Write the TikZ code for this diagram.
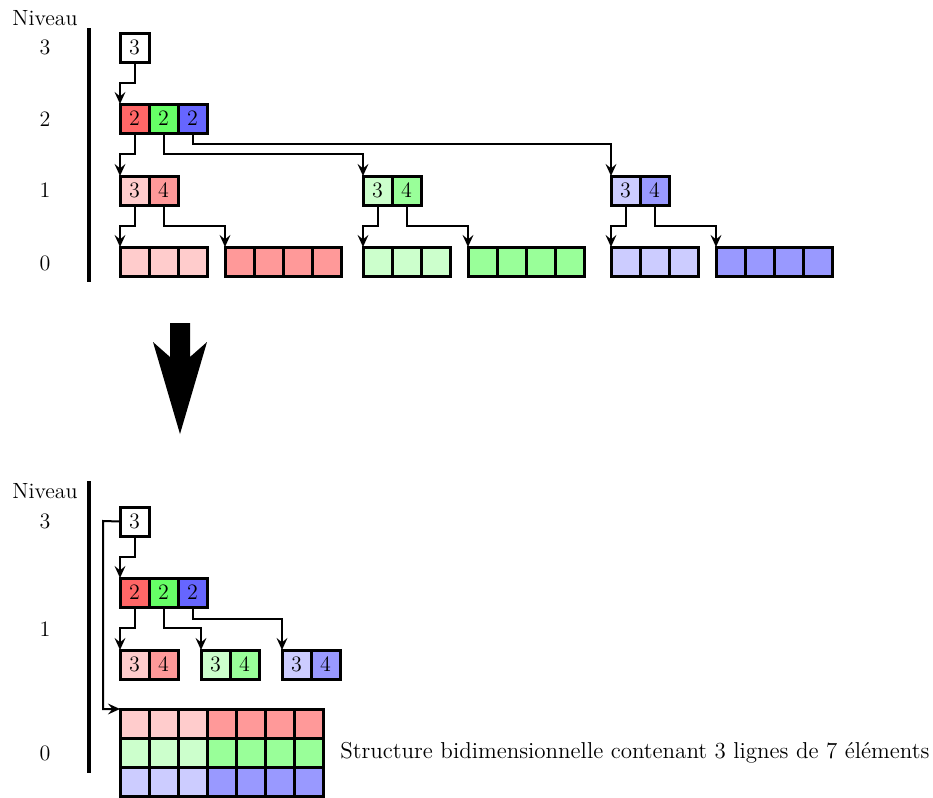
\documentclass[tikz,border=0pt]{standalone}
\usetikzlibrary{arrows.meta}
\newcommand\cellrow[5]{%
  \foreach \i in {1,...,#4} {\node[cellbox,fill=#5] (#1-\i) at ({#2+29*(\i-1)},#3) {};}}
\begin{document}
\begin{tikzpicture}[x=0.5pt,y=-0.5pt,
  cellbox/.style={draw, line width=1.5pt, minimum size=14.5pt, inner sep=0pt, outer sep=0pt, anchor=north west, font=\fontsize{11}{13}\selectfont},
  conn/.style={line width=1pt, -{Stealth[length=6pt,width=5.4pt,inset=2.2pt]}},
  lvl/.style={font=\fontsize{11}{13}\selectfont},
  bar/.style={line width=2pt}]
\useasboundingbox (0,0) rectangle (933,798);
% ---------- top part ----------
\node[lvl] (niv1) at (45,18) {Niveau};
\node[lvl] (l3a) at (45,47) {3};
\node[lvl] (l2a) at (45,119) {2};
\node[lvl] (l1a) at (45,190) {1};
\node[lvl] (l0a) at (45,263) {0};
\draw[bar] (89,28) -- (89,282);
% level 3
\node[cellbox] (t3) at (120,33) {3};
% level 2
\node[cellbox,fill=red!60] (t2r) at (120,104) {2};
\node[cellbox,fill=green!60] (t2g) at (149,104) {2};
\node[cellbox,fill=blue!60] (t2b) at (178,104) {2};
% level 1
\node[cellbox,fill=red!20] (t1r3) at (120,176) {3};
\node[cellbox,fill=red!40] (t1r4) at (149,176) {4};
\node[cellbox,fill=green!20] (t1g3) at (363,176) {3};
\node[cellbox,fill=green!40] (t1g4) at (392,176) {4};
\node[cellbox,fill=blue!20] (t1b3) at (611,176) {3};
\node[cellbox,fill=blue!40] (t1b4) at (640,176) {4};
% level 0
\cellrow{r0a}{120}{247}{3}{red!20}
\cellrow{r0b}{225}{247}{4}{red!40}
\cellrow{g0a}{363}{247}{3}{green!20}
\cellrow{g0b}{468}{247}{4}{green!40}
\cellrow{b0a}{611}{247}{3}{blue!20}
\cellrow{b0b}{716}{247}{4}{blue!40}
% connectors
\draw[conn] (t3.south) -- ++(0,21) -| (t2r.north west);
\draw[conn] (t2r.south) -- ++(0,21) -| (t1r3.north west);
\draw[conn] (t2g.south) -- ++(0,21) -| (t1g3.north west);
\draw[conn] (t2b.south) -- ++(0,11) -| (t1b3.north west);
\draw[conn] (t1r3.south) -- ++(0,21) -| (r0a-1.north west);
\draw[conn] (t1r4.south) -- ++(0,21) -| (r0b-1.north west);
\draw[conn] (t1g3.south) -- ++(0,21) -| (g0a-1.north west);
\draw[conn] (t1g4.south) -- ++(0,21) -| (g0b-1.north west);
\draw[conn] (t1b3.south) -- ++(0,21) -| (b0a-1.north west);
\draw[conn] (t1b4.south) -- ++(0,21) -| (b0b-1.north west);
% ---------- big arrow ----------
\fill (170,323) -- (190,323) -- (190,357) -- (207,342) -- (180,434) -- (153,342) -- (170,357) -- cycle;
% ---------- bottom part ----------
\node[lvl] (niv2) at (45,491) {Niveau};
\node[lvl] (l3b) at (45,521) {3};
\node[lvl] (l1b) at (45,629) {1};
\node[lvl] (l0b) at (45,753) {0};
\draw[bar] (89,481) -- (89,773);
\node[cellbox] (b3) at (120,507) {3};
\node[cellbox,fill=red!60] (b2r) at (120,578) {2};
\node[cellbox,fill=green!60] (b2g) at (149,578) {2};
\node[cellbox,fill=blue!60] (b2b) at (178,578) {2};
\node[cellbox,fill=red!20] (b1r3) at (120,650) {3};
\node[cellbox,fill=red!40] (b1r4) at (149,650) {4};
\node[cellbox,fill=green!20] (b1g3) at (201,650) {3};
\node[cellbox,fill=green!40] (b1g4) at (230,650) {4};
\node[cellbox,fill=blue!20] (b1b3) at (282,650) {3};
\node[cellbox,fill=blue!40] (b1b4) at (311,650) {4};
\cellrow{gr1a}{120}{709}{3}{red!20}
\cellrow{gr1b}{207}{709}{4}{red!40}
\cellrow{gr2a}{120}{738}{3}{green!20}
\cellrow{gr2b}{207}{738}{4}{green!40}
\cellrow{gr3a}{120}{767}{3}{blue!20}
\cellrow{gr3b}{207}{767}{4}{blue!40}
\draw[conn] (b3.south) -- ++(0,21) -| (b2r.north west);
\draw[conn] (b2r.south) -- ++(0,21) -| (b1r3.north west);
\draw[conn] (b2g.south) -- ++(0,21) -| (b1g3.north west);
\draw[conn] (b2b.south) -- ++(0,12) -| (b1b3.north west);
\coordinate (bend) at (103,521);
\draw[conn] (b3.west) -- (bend) |- (gr1a-1.north west);
\node[anchor=west,inner sep=0pt,font=\fontsize{11.5}{14}\selectfont] (caption) at (340,753) {Structure bidimensionnelle contenant 3 lignes de 7 éléments};
\end{tikzpicture}
\end{document}
